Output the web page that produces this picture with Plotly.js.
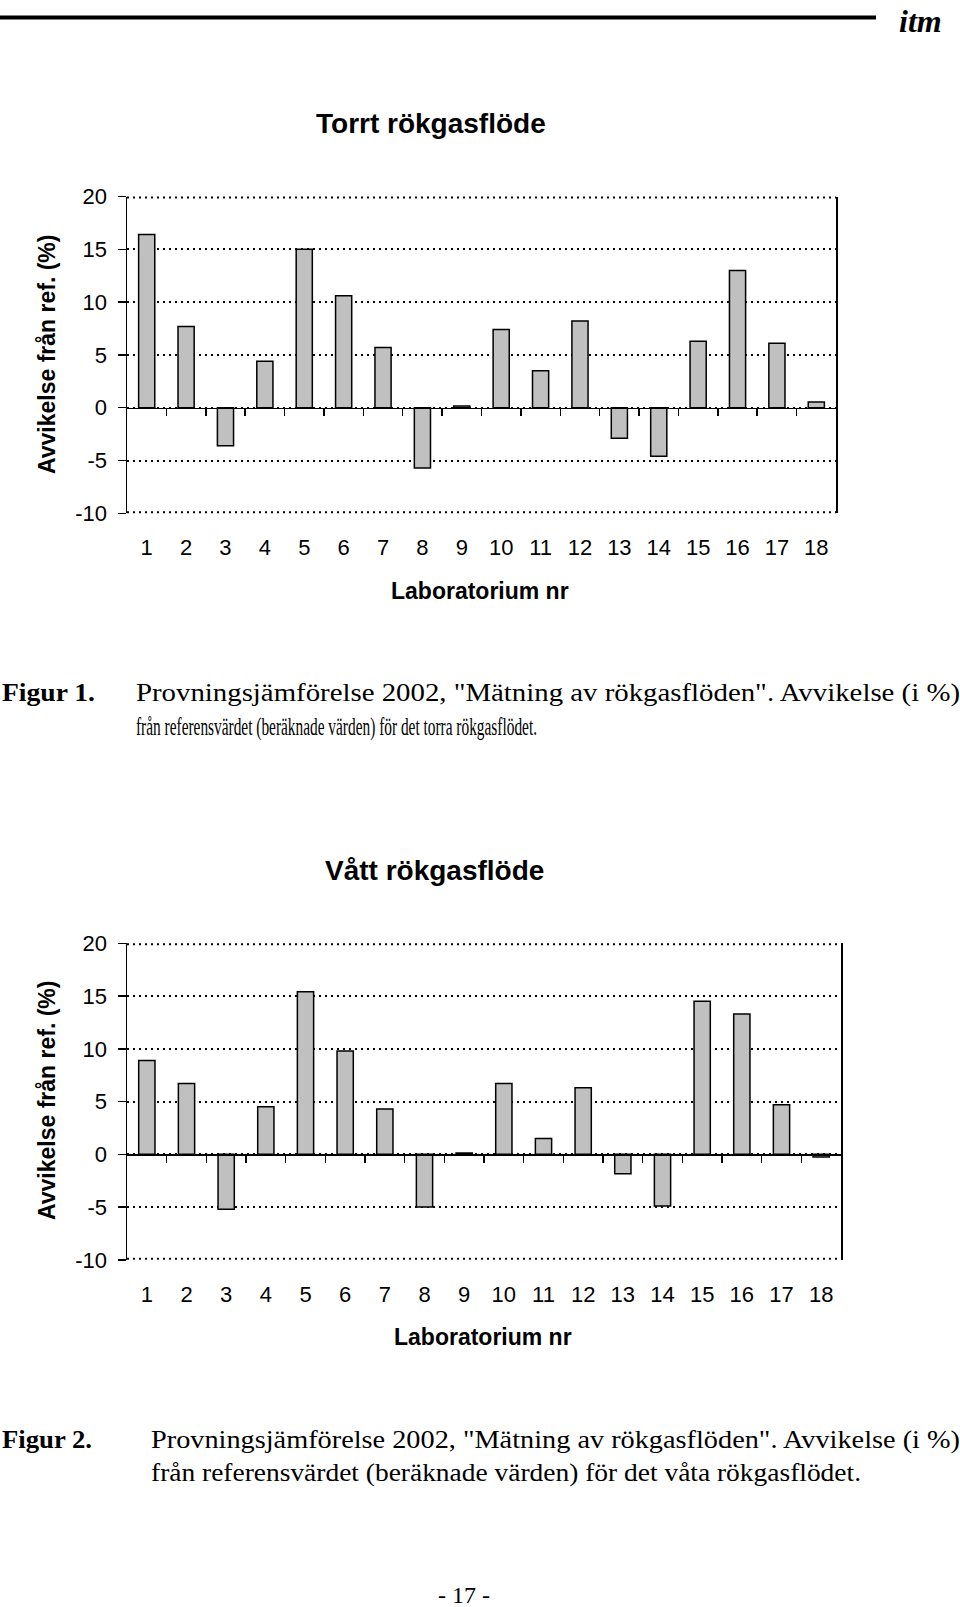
<!DOCTYPE html>
<html>
<head>
<meta charset="utf-8">
<script src="https://cdn.plot.ly/plotly-3.0.1.min.js"></script>
<style>
html,body{margin:0;padding:0;background:#fff;}
#chart{width:960px;height:1607px;}
</style>
</head>
<body>
<div id="chart"></div>
<script>
// ---- data ----
var labNumbers = [1,2,3,4,5,6,7,8,9,10,11,12,13,14,15,16,17,18];
var labLabels = ['1','2','3','4','5','6','7','8','9','10','11','12','13','14','15','16','17','18'];
var torrtDeviation = [16.4, 7.7, -3.6, 4.4, 15.0, 10.6, 5.7, -5.7, 0.15, 7.4, 3.5, 8.2, -2.9, -4.6, 6.3, 13.0, 6.1, 0.55];
var vattDeviation = [8.9, 6.7, -5.2, 4.5, 15.4, 9.8, 4.3, -5.0, 0.13, 6.7, 1.5, 6.3, -1.85, -4.9, 14.5, 13.3, 4.7, -0.25];
var yTickValues = [-10, -5, 0, 5, 10, 15, 20];
var yTickLabels = ['-10', '-5', '0', '5', '10', '15', '20'];
var yMin = -10, yMax = 20;
var chart1Title = 'Torrt rökgasflöde';
var chart2Title = 'Vått rökgasflöde';
var xTitle = 'Laboratorium nr';
var yTitle = 'Avvikelse från ref. (%)';

// ---- geometry helpers (page pixels -> paper) ----
var W = 960, H = 1607;
function px(x){ return x / W; }
function py(y){ return 1 - y / H; }

var yRange = [yMin, yMax];

// category boundaries for the small ticks along the zero line
var boundaries = labNumbers.slice(0, -1).map(function(n){ return n + 0.5; });

var dom1x = [px(127), px(836)], dom1y = [py(513.3), py(196.5)];
var dom2x = [px(127), px(841)], dom2y = [py(1259.8), py(943.3)];
function zeroPos(d){ return d[0] + (d[1] - d[0]) * (0 - yRange[0]) / (yRange[1] - yRange[0]); }

var barStyle = {color: '#c0c0c0', line: {color: '#000', width: 1.5}};

var data = [
  {type: 'bar', x: labNumbers, y: torrtDeviation, xaxis: 'x', yaxis: 'y', width: 0.41, marker: barStyle, showlegend: false, hoverinfo: 'skip'},
  {type: 'scatter', mode: 'markers', x: [], y: [], xaxis: 'x2', yaxis: 'y', showlegend: false, hoverinfo: 'skip'},
  {type: 'bar', x: labNumbers, y: vattDeviation, xaxis: 'x3', yaxis: 'y3', width: 0.41, marker: barStyle, showlegend: false, hoverinfo: 'skip'},
  {type: 'scatter', mode: 'markers', x: [], y: [], xaxis: 'x4', yaxis: 'y3', showlegend: false, hoverinfo: 'skip'}
];

var tickFont = {family: 'Liberation Sans, Arial, sans-serif', size: 22, color: '#000'};
var gridDash = '2px,4px';

function catAxis(dom, anchor){
  return {domain: dom, anchor: anchor, range: [0.5, 18.5], tickmode: 'array', tickvals: labNumbers, ticktext: labLabels,
    ticks: '', showline: false, showgrid: false, zeroline: false, tickfont: tickFont, ticklabelstandoff: 19, fixedrange: true};
}
function zeroAxis(dom, over, pos){
  return {domain: dom, overlaying: over, anchor: 'free', position: pos, range: [0.5, 18.5], tickmode: 'array', tickvals: boundaries,
    showticklabels: false, ticks: 'outside', ticklen: 7, tickwidth: 1.5, tickcolor: '#000', showline: true, linecolor: '#000', linewidth: 1.5,
    showgrid: false, zeroline: false, fixedrange: true};
}
function valAxis(dom, anchor){
  return {domain: dom, anchor: anchor, range: yRange, tickmode: 'array', tickvals: yTickValues, ticktext: yTickLabels, ticks: 'outside', ticklen: 8,
    tickwidth: 1.5, tickcolor: '#000', showline: true, mirror: true, linecolor: '#000', linewidth: 1.5, showgrid: true,
    gridcolor: '#000', gridwidth: 2, griddash: gridDash, zeroline: false, tickfont: tickFont, ticklabelstandoff: 6, fixedrange: true};
}
// dotted frame lines at the top and bottom of the value range (grid at range ends; half is clipped by the plot area)
function edgeLine(xref, yref, v){
  return {type: 'line', xref: xref + ' domain', yref: yref, x0: 0, x1: 1, y0: v, y1: v, layer: 'above',
    line: {color: '#000', width: 4, dash: gridDash}};
}

var titleFont = {family: 'Liberation Sans, Arial, sans-serif', size: 28, color: '#000', weight: 'bold'};
var axTitleFont = {family: 'Liberation Sans, Arial, sans-serif', size: 23, color: '#000', weight: 'bold'};
var serif = 'Liberation Serif, Times New Roman, serif';
var capFont = {family: serif, size: 26, color: '#000'};
var capBold = {family: serif, size: 26, color: '#000', weight: 'bold'};

function ann(text, x, y, font, opts){
  var a = {text: text, x: px(x), y: py(y), xref: 'paper', yref: 'paper', showarrow: false, font: font,
    xanchor: 'center', yanchor: 'middle', borderpad: 0};
  if (opts) for (var k in opts) a[k] = opts[k];
  return a;
}

var annotations = [
  ann(chart1Title, 431, 123, titleFont),
  ann(xTitle, 480, 591, axTitleFont),
  ann(yTitle, 47, 355, axTitleFont, {textangle: -90}),
  ann(chart2Title, 434.5, 870, titleFont),
  ann(xTitle, 483, 1337, axTitleFont),
  ann(yTitle, 47, 1101, axTitleFont, {textangle: -90}),
  ann('Figur 1.', 2, 692, capBold, {xanchor: 'left'}),
  ann('Provningsjämförelse 2002, "Mätning av rökgasflöden". Avvikelse (i %)', 136, 692, capFont, {xanchor: 'left'}),
  ann('från referensvärdet (beräknade värden) för det torra rökgasflödet.', 136, 726, capFont, {xanchor: 'left'}),
  ann('Figur 2.', 2, 1439, capBold, {xanchor: 'left'}),
  ann('Provningsjämförelse 2002, "Mätning av rökgasflöden". Avvikelse (i %)', 151, 1439, capFont, {xanchor: 'left'}),
  ann('från referensvärdet (beräknade värden) för det våta rökgasflödet.', 151, 1472, capFont, {xanchor: 'left'}),
  ann('- 17 -', 464, 1595, {family: serif, size: 24, color: '#000'}),
  ann('<b><i>itm</i></b>', 920, 21, {family: serif, size: 32, color: '#000'})
];

// text fitting: [annotation index, left px, width px]
var fits = [[6, 2, 93], [7, 136, 824], [8, 136, 401], [9, 2, 90], [10, 151, 809], [11, 151, 710]];

var layout = {
  width: W, height: H, margin: {l: 0, r: 0, t: 0, b: 0}, paper_bgcolor: '#fff', plot_bgcolor: 'rgba(0,0,0,0)',
  showlegend: false, bargap: 0,
  xaxis: catAxis(dom1x, 'y'),
  yaxis: valAxis(dom1y, 'x'),
  xaxis2: zeroAxis(dom1x, 'x', zeroPos(dom1y)),
  xaxis3: catAxis(dom2x, 'y3'),
  yaxis3: valAxis(dom2y, 'x3'),
  xaxis4: zeroAxis(dom2x, 'x3', zeroPos(dom2y)),
  annotations: annotations,
  shapes: [
    {type: 'line', xref: 'paper', yref: 'paper', x0: 0, x1: px(876), y0: py(17.5), y1: py(17.5), line: {color: '#000', width: 4}},
    edgeLine('x', 'y', yMax), edgeLine('x', 'y', yMin),
    edgeLine('x3', 'y3', yMax), edgeLine('x3', 'y3', yMin)
  ]
};

Plotly.newPlot('chart', data, layout, {staticPlot: true, displayModeBar: false}).then(function(gd){
  fits.forEach(function(f){
    var g = gd.querySelector('g.annotation[data-index="' + f[0] + '"] text.annotation-text');
    if (!g) return;
    g.setAttribute('textLength', f[2]);
    g.setAttribute('lengthAdjust', 'spacingAndGlyphs');
    var b = g.getBoundingClientRect();
    var dx = f[1] - b.left;
    var tr = g.getAttribute('transform') || '';
    g.setAttribute('transform', tr + ' translate(' + dx + ',0)');
  });
});
</script>
</body>
</html>
